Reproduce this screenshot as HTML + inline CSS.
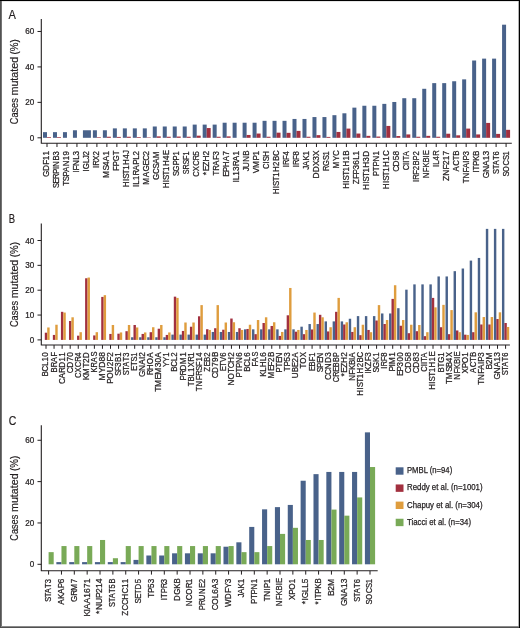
<!DOCTYPE html><html><head><meta charset="utf-8"><style>html,body{margin:0;padding:0;background:#fff;}svg{display:block;will-change:transform;} text{stroke:#231f20;stroke-width:0.25px;} text.t{stroke-width:0.2px;}</style></head><body>
<svg width="520" height="628" viewBox="0 0 520 628" font-family='"Liberation Sans", sans-serif' fill="#231f20" stroke-linejoin="round">
<rect x="0" y="0" width="520" height="628" fill="#fff"/>
<text class="t" transform="translate(8.60,18.80) scale(0.8804,1)" x="0.00" font-size="12.6">A</text>
<text class="t" transform="translate(17.7,124.20) rotate(-90)" font-size="10.4" textLength="26.00" lengthAdjust="spacingAndGlyphs">Cases</text>
<text class="t" transform="translate(17.7,95.50) rotate(-90)" font-size="10.4" textLength="38.60" lengthAdjust="spacingAndGlyphs">mutated</text>
<text class="t" transform="translate(17.7,54.50) rotate(-90)" font-size="10.4" textLength="15.20" lengthAdjust="spacingAndGlyphs">(%)</text>
<rect x="43.00" y="132.14" width="4.00" height="5.66" fill="#49628a"/>
<rect x="52.98" y="132.14" width="4.00" height="5.66" fill="#49628a"/>
<rect x="62.96" y="132.14" width="4.00" height="5.66" fill="#49628a"/>
<rect x="72.94" y="130.26" width="4.00" height="7.54" fill="#49628a"/>
<rect x="92.90" y="130.26" width="4.00" height="7.54" fill="#49628a"/>
<rect x="102.88" y="130.26" width="4.00" height="7.54" fill="#49628a"/>
<rect x="112.86" y="128.37" width="4.00" height="9.43" fill="#49628a"/>
<rect x="122.84" y="128.37" width="4.00" height="9.43" fill="#49628a"/>
<rect x="132.82" y="128.37" width="4.00" height="9.43" fill="#49628a"/>
<rect x="142.80" y="128.37" width="4.00" height="9.43" fill="#49628a"/>
<rect x="152.78" y="126.49" width="4.00" height="11.31" fill="#49628a"/>
<rect x="162.76" y="126.49" width="4.00" height="11.31" fill="#49628a"/>
<rect x="172.74" y="126.49" width="4.00" height="11.31" fill="#49628a"/>
<rect x="182.72" y="126.49" width="4.00" height="11.31" fill="#49628a"/>
<rect x="192.70" y="124.60" width="4.00" height="13.20" fill="#49628a"/>
<rect x="202.68" y="124.60" width="4.00" height="13.20" fill="#49628a"/>
<rect x="212.66" y="124.60" width="4.00" height="13.20" fill="#49628a"/>
<rect x="222.64" y="122.72" width="4.00" height="15.08" fill="#49628a"/>
<rect x="232.62" y="122.72" width="4.00" height="15.08" fill="#49628a"/>
<rect x="242.60" y="122.72" width="4.00" height="15.08" fill="#49628a"/>
<rect x="252.58" y="122.72" width="4.00" height="15.08" fill="#49628a"/>
<rect x="262.56" y="120.83" width="4.00" height="16.97" fill="#49628a"/>
<rect x="272.54" y="120.83" width="4.00" height="16.97" fill="#49628a"/>
<rect x="282.52" y="120.83" width="4.00" height="16.97" fill="#49628a"/>
<rect x="292.50" y="118.95" width="4.00" height="18.85" fill="#49628a"/>
<rect x="302.48" y="118.95" width="4.00" height="18.85" fill="#49628a"/>
<rect x="312.46" y="117.06" width="4.00" height="20.74" fill="#49628a"/>
<rect x="322.44" y="117.06" width="4.00" height="20.74" fill="#49628a"/>
<rect x="332.42" y="115.18" width="4.00" height="22.62" fill="#49628a"/>
<rect x="342.40" y="113.29" width="4.00" height="24.51" fill="#49628a"/>
<rect x="352.38" y="107.64" width="4.00" height="30.16" fill="#49628a"/>
<rect x="362.36" y="105.75" width="4.00" height="32.05" fill="#49628a"/>
<rect x="372.34" y="105.75" width="4.00" height="32.05" fill="#49628a"/>
<rect x="382.32" y="103.87" width="4.00" height="33.93" fill="#49628a"/>
<rect x="392.30" y="101.98" width="4.00" height="35.82" fill="#49628a"/>
<rect x="402.28" y="98.21" width="4.00" height="39.59" fill="#49628a"/>
<rect x="412.26" y="98.21" width="4.00" height="39.59" fill="#49628a"/>
<rect x="422.24" y="88.79" width="4.00" height="49.01" fill="#49628a"/>
<rect x="432.22" y="83.13" width="4.00" height="54.67" fill="#49628a"/>
<rect x="442.20" y="83.13" width="4.00" height="54.67" fill="#49628a"/>
<rect x="452.18" y="81.25" width="4.00" height="56.55" fill="#49628a"/>
<rect x="462.16" y="79.36" width="4.00" height="58.44" fill="#49628a"/>
<rect x="472.14" y="60.51" width="4.00" height="77.29" fill="#49628a"/>
<rect x="482.12" y="58.63" width="4.00" height="79.17" fill="#49628a"/>
<rect x="492.10" y="58.63" width="4.00" height="79.17" fill="#49628a"/>
<rect x="502.08" y="24.69" width="4.00" height="113.11" fill="#49628a"/>
<rect x="47.00" y="137.09" width="4.00" height="0.71" fill="#a2303f"/>
<rect x="56.98" y="137.09" width="4.00" height="0.71" fill="#a2303f"/>
<rect x="96.90" y="137.18" width="4.00" height="0.62" fill="#a2303f"/>
<rect x="106.88" y="136.74" width="4.00" height="1.06" fill="#a2303f"/>
<rect x="116.86" y="136.91" width="4.00" height="0.89" fill="#a2303f"/>
<rect x="126.84" y="136.74" width="4.00" height="1.06" fill="#a2303f"/>
<rect x="136.82" y="137.09" width="4.00" height="0.71" fill="#a2303f"/>
<rect x="146.80" y="137.36" width="4.00" height="0.44" fill="#a2303f"/>
<rect x="156.78" y="136.38" width="4.00" height="1.42" fill="#a2303f"/>
<rect x="166.76" y="136.74" width="4.00" height="1.06" fill="#a2303f"/>
<rect x="176.74" y="136.56" width="4.00" height="1.24" fill="#a2303f"/>
<rect x="186.72" y="136.74" width="4.00" height="1.06" fill="#a2303f"/>
<rect x="196.70" y="135.67" width="4.00" height="2.13" fill="#a2303f"/>
<rect x="206.68" y="128.05" width="4.00" height="9.75" fill="#a2303f"/>
<rect x="216.66" y="136.74" width="4.00" height="1.06" fill="#a2303f"/>
<rect x="226.64" y="136.38" width="4.00" height="1.42" fill="#a2303f"/>
<rect x="246.60" y="134.96" width="4.00" height="2.84" fill="#a2303f"/>
<rect x="256.58" y="133.55" width="4.00" height="4.25" fill="#a2303f"/>
<rect x="266.56" y="136.74" width="4.00" height="1.06" fill="#a2303f"/>
<rect x="276.54" y="132.66" width="4.00" height="5.14" fill="#a2303f"/>
<rect x="286.52" y="132.84" width="4.00" height="4.96" fill="#a2303f"/>
<rect x="296.50" y="130.89" width="4.00" height="6.91" fill="#a2303f"/>
<rect x="306.48" y="136.74" width="4.00" height="1.06" fill="#a2303f"/>
<rect x="316.46" y="135.14" width="4.00" height="2.66" fill="#a2303f"/>
<rect x="326.44" y="136.91" width="4.00" height="0.89" fill="#a2303f"/>
<rect x="336.42" y="131.95" width="4.00" height="5.85" fill="#a2303f"/>
<rect x="346.40" y="128.59" width="4.00" height="9.21" fill="#a2303f"/>
<rect x="356.38" y="133.55" width="4.00" height="4.25" fill="#a2303f"/>
<rect x="366.36" y="135.85" width="4.00" height="1.95" fill="#a2303f"/>
<rect x="376.34" y="136.56" width="4.00" height="1.24" fill="#a2303f"/>
<rect x="386.32" y="125.93" width="4.00" height="11.87" fill="#a2303f"/>
<rect x="396.30" y="136.03" width="4.00" height="1.77" fill="#a2303f"/>
<rect x="406.28" y="134.43" width="4.00" height="3.37" fill="#a2303f"/>
<rect x="416.26" y="136.74" width="4.00" height="1.06" fill="#a2303f"/>
<rect x="426.24" y="135.85" width="4.00" height="1.95" fill="#a2303f"/>
<rect x="436.22" y="136.74" width="4.00" height="1.06" fill="#a2303f"/>
<rect x="446.20" y="133.72" width="4.00" height="4.08" fill="#a2303f"/>
<rect x="456.18" y="135.32" width="4.00" height="2.48" fill="#a2303f"/>
<rect x="466.16" y="128.59" width="4.00" height="9.21" fill="#a2303f"/>
<rect x="476.14" y="134.43" width="4.00" height="3.37" fill="#a2303f"/>
<rect x="486.12" y="122.92" width="4.00" height="14.88" fill="#a2303f"/>
<rect x="496.10" y="133.90" width="4.00" height="3.90" fill="#a2303f"/>
<rect x="506.08" y="129.83" width="4.00" height="7.97" fill="#a2303f"/>
<path d="M41.3,19V143.2H511.8" fill="none" stroke="#231f20" stroke-width="1.1"/>
<path d="M37.5,137.80H41.3" stroke="#231f20" stroke-width="1"/>
<text transform="translate(29.69,140.80) scale(0.9439,1)" x="0.00" font-size="8.6">0</text>
<path d="M37.5,102.36H41.3" stroke="#231f20" stroke-width="1"/>
<text transform="translate(25.17,105.36) scale(0.9439,1)" x="0.00 4.78" font-size="8.6">20</text>
<path d="M37.5,66.92H41.3" stroke="#231f20" stroke-width="1"/>
<text transform="translate(25.17,69.92) scale(0.9439,1)" x="0.00 4.78" font-size="8.6">40</text>
<path d="M37.5,31.48H41.3" stroke="#231f20" stroke-width="1"/>
<text transform="translate(25.17,34.48) scale(0.9439,1)" x="0.00 4.78" font-size="8.6">60</text>
<path d="M47.00,143.2V147.0" stroke="#231f20" stroke-width="1"/>
<text transform="translate(49.45,177.04) rotate(-90) scale(0.9322,1)" x="0.00 6.49 13.17 18.06 23.21" font-size="8.8">GDF11</text>
<path d="M56.98,143.2V147.0" stroke="#231f20" stroke-width="1"/>
<text transform="translate(59.43,188.11) rotate(-90) scale(0.8617,1)" x="0.00 5.36 10.70 16.54 22.32 24.92 32.07 37.95" font-size="8.8">SERPINB3</text>
<path d="M66.96,143.2V147.0" stroke="#231f20" stroke-width="1"/>
<text transform="translate(69.41,185.77) rotate(-90) scale(0.8990,1)" x="0.00 5.17 10.31 15.22 21.59 28.44 33.79" font-size="8.8">TSPAN19</text>
<path d="M76.94,143.2V147.0" stroke="#231f20" stroke-width="1"/>
<text transform="translate(79.39,172.77) rotate(-90) scale(0.9253,1)" x="0.00 2.42 7.34 14.00 18.77" font-size="8.8">IFNL3</text>
<path d="M86.92,143.2V147.0" stroke="#231f20" stroke-width="1"/>
<text transform="translate(89.37,171.57) rotate(-90) scale(0.8930,1)" x="0.00 2.51 9.28 14.22 18.10" font-size="8.8">IGLJ2</text>
<path d="M96.90,143.2V147.0" stroke="#231f20" stroke-width="1"/>
<text transform="translate(99.35,168.02) rotate(-90) scale(0.8904,1)" x="0.00 2.51 8.17 14.17" font-size="8.8">IRX2</text>
<path d="M106.88,143.2V147.0" stroke="#231f20" stroke-width="1"/>
<text transform="translate(109.33,178.07) rotate(-90) scale(0.9520,1)" x="0.00 7.91 12.75 17.80 23.81" font-size="8.8">MS4A1</text>
<path d="M116.86,143.2V147.0" stroke="#231f20" stroke-width="1"/>
<text transform="translate(119.31,170.84) rotate(-90) scale(0.8624,1)" x="0.00 5.29 11.06 18.07" font-size="8.8">FPGT</text>
<path d="M126.84,143.2V147.0" stroke="#231f20" stroke-width="1"/>
<text transform="translate(129.29,187.19) rotate(-90) scale(0.9014,1)" x="0.00 6.77 9.25 14.37 19.32 24.65 31.42 36.75" font-size="8.8">HIST1H4J</text>
<path d="M136.82,143.2V147.0" stroke="#231f20" stroke-width="1"/>
<text transform="translate(139.27,187.02) rotate(-90) scale(0.9079,1)" x="0.00 2.46 7.33 12.62 18.17 24.48 29.96 34.83" font-size="8.8">IL1RAPL2</text>
<path d="M146.80,143.2V147.0" stroke="#231f20" stroke-width="1"/>
<text transform="translate(149.25,184.74) rotate(-90) scale(0.9185,1)" x="0.00 8.19 14.43 21.01 26.03 31.94" font-size="8.8">MAGEC2</text>
<path d="M156.78,143.2V147.0" stroke="#231f20" stroke-width="1"/>
<text transform="translate(159.23,179.94) rotate(-90) scale(0.9093,1)" x="0.00 6.65 12.62 17.69 23.99" font-size="8.8">GCSAM</text>
<path d="M166.76,143.2V147.0" stroke="#231f20" stroke-width="1"/>
<text transform="translate(169.21,188.33) rotate(-90) scale(0.8971,1)" x="0.00 6.80 9.30 14.44 19.42 24.77 31.57 36.92" font-size="8.8">HIST1H4E</text>
<path d="M176.74,143.2V147.0" stroke="#231f20" stroke-width="1"/>
<text transform="translate(179.19,176.02) rotate(-90) scale(0.8662,1)" x="0.00 5.33 12.31 18.06 23.80" font-size="8.8">SGPP1</text>
<path d="M186.72,143.2V147.0" stroke="#231f20" stroke-width="1"/>
<text transform="translate(189.17,174.22) rotate(-90) scale(0.8329,1)" x="0.00 5.54 11.59 17.13 22.60" font-size="8.8">SRSF1</text>
<path d="M196.70,143.2V147.0" stroke="#231f20" stroke-width="1"/>
<text transform="translate(199.15,176.64) rotate(-90) scale(0.8730,1)" x="0.00 6.22 12.34 18.56 24.33" font-size="8.8">CXCR5</text>
<path d="M206.68,143.2V147.0" stroke="#231f20" stroke-width="1"/>
<text transform="translate(209.13,175.16) rotate(-90) scale(0.9476,1)" x="0.00 4.09 8.95 14.41 20.85" font-size="8.8">*EZH2</text>
<path d="M216.66,143.2V147.0" stroke="#231f20" stroke-width="1"/>
<text transform="translate(219.11,175.38) rotate(-90) scale(0.8890,1)" x="0.00 5.23 10.90 17.34 22.47" font-size="8.8">TRAF3</text>
<path d="M226.64,143.2V147.0" stroke="#231f20" stroke-width="1"/>
<text transform="translate(229.09,176.82) rotate(-90) scale(0.9085,1)" x="0.00 5.07 10.55 17.27 23.57" font-size="8.8">EPHA7</text>
<path d="M236.62,143.2V147.0" stroke="#231f20" stroke-width="1"/>
<text transform="translate(239.07,182.42) rotate(-90) scale(0.9293,1)" x="0.00 2.41 7.16 12.33 17.50 22.91 29.08" font-size="8.8">IL13RA1</text>
<path d="M246.60,143.2V147.0" stroke="#231f20" stroke-width="1"/>
<text transform="translate(249.05,171.35) rotate(-90) scale(0.9030,1)" x="0.00 3.84 10.54 17.36" font-size="8.8">JUNB</text>
<path d="M256.58,143.2V147.0" stroke="#231f20" stroke-width="1"/>
<text transform="translate(259.03,173.13) rotate(-90) scale(0.9402,1)" x="0.00 5.56 13.56 18.86" font-size="8.8">VMP1</text>
<path d="M266.56,143.2V147.0" stroke="#231f20" stroke-width="1"/>
<text transform="translate(269.01,168.98) rotate(-90) scale(0.8744,1)" x="0.00 6.21 8.77 14.04" font-size="8.8">CISH</text>
<path d="M276.54,143.2V147.0" stroke="#231f20" stroke-width="1"/>
<text transform="translate(278.99,194.23) rotate(-90) scale(0.9011,1)" x="0.00 6.77 9.25 14.38 19.33 24.66 31.43 36.76 42.39" font-size="8.8">HIST1H2BC</text>
<path d="M286.52,143.2V147.0" stroke="#231f20" stroke-width="1"/>
<text transform="translate(288.97,167.23) rotate(-90) scale(0.8722,1)" x="0.00 2.56 8.34 13.56" font-size="8.8">IRF4</text>
<path d="M296.50,143.2V147.0" stroke="#231f20" stroke-width="1"/>
<text transform="translate(298.95,167.23) rotate(-90) scale(0.8722,1)" x="0.00 2.56 8.34 13.56" font-size="8.8">IRF8</text>
<path d="M306.48,143.2V147.0" stroke="#231f20" stroke-width="1"/>
<text transform="translate(308.93,169.67) rotate(-90) scale(0.9065,1)" x="0.00 3.82 10.14 15.74" font-size="8.8">JAK1</text>
<path d="M316.46,143.2V147.0" stroke="#231f20" stroke-width="1"/>
<text transform="translate(318.91,178.56) rotate(-90) scale(0.9528,1)" x="0.00 6.54 13.09 18.69 23.73" font-size="8.8">DDX3X</text>
<path d="M326.44,143.2V147.0" stroke="#231f20" stroke-width="1"/>
<text transform="translate(328.89,171.10) rotate(-90) scale(0.8554,1)" x="0.00 5.89 12.96 18.35" font-size="8.8">RGS1</text>
<path d="M336.42,143.2V147.0" stroke="#231f20" stroke-width="1"/>
<text transform="translate(338.87,168.62) rotate(-90) scale(0.9214,1)" x="0.00 8.17 13.66" font-size="8.8">MYC</text>
<path d="M346.40,143.2V147.0" stroke="#231f20" stroke-width="1"/>
<text transform="translate(348.85,188.80) rotate(-90) scale(0.9082,1)" x="0.00 6.72 9.18 14.26 19.18 24.47 31.19 36.47" font-size="8.8">HIST1H1B</text>
<path d="M356.38,143.2V147.0" stroke="#231f20" stroke-width="1"/>
<text transform="translate(358.83,184.14) rotate(-90) scale(0.9265,1)" x="0.00 5.59 10.51 15.88 21.06 26.25 31.01" font-size="8.8">ZFP36L1</text>
<path d="M366.36,143.2V147.0" stroke="#231f20" stroke-width="1"/>
<text transform="translate(368.81,189.96) rotate(-90) scale(0.9251,1)" x="0.00 6.60 9.01 14.00 18.83 24.02 30.62 35.81" font-size="8.8">HIST1H3D</text>
<path d="M376.34,143.2V147.0" stroke="#231f20" stroke-width="1"/>
<text transform="translate(378.79,176.17) rotate(-90) scale(0.9016,1)" x="0.00 5.52 10.68 16.21 23.04" font-size="8.8">PTPN1</text>
<path d="M386.32,143.2V147.0" stroke="#231f20" stroke-width="1"/>
<text transform="translate(388.77,189.15) rotate(-90) scale(0.9062,1)" x="0.00 6.73 9.20 14.29 19.22 24.52 31.25 36.55" font-size="8.8">HIST1H1C</text>
<path d="M396.30,143.2V147.0" stroke="#231f20" stroke-width="1"/>
<text transform="translate(398.75,171.87) rotate(-90) scale(0.9452,1)" x="0.00 5.74 12.34 17.42" font-size="8.8">CD58</text>
<path d="M406.28,143.2V147.0" stroke="#231f20" stroke-width="1"/>
<text transform="translate(408.73,170.32) rotate(-90) scale(0.8769,1)" x="0.00 6.19 8.74 11.29 15.96" font-size="8.8">CIITA</text>
<path d="M416.26,143.2V147.0" stroke="#231f20" stroke-width="1"/>
<text transform="translate(418.71,182.09) rotate(-90) scale(0.8819,1)" x="0.00 2.54 8.25 13.42 18.86 24.61 30.26" font-size="8.8">IRF2BP2</text>
<path d="M426.24,143.2V147.0" stroke="#231f20" stroke-width="1"/>
<text transform="translate(428.69,178.31) rotate(-90) scale(0.8717,1)" x="0.00 7.07 12.29 18.11 23.93 26.50" font-size="8.8">NFKBIE</text>
<path d="M436.22,143.2V147.0" stroke="#231f20" stroke-width="1"/>
<text transform="translate(438.67,167.09) rotate(-90) scale(0.8872,1)" x="0.00 2.52 7.50 12.91" font-size="8.8">IL4R</text>
<path d="M446.20,143.2V147.0" stroke="#231f20" stroke-width="1"/>
<text transform="translate(448.65,180.90) rotate(-90) scale(0.9531,1)" x="0.00 5.43 11.89 16.67 21.71 26.75" font-size="8.8">ZNF217</text>
<path d="M456.18,143.2V147.0" stroke="#231f20" stroke-width="1"/>
<text transform="translate(458.63,171.48) rotate(-90) scale(0.8898,1)" x="0.00 6.44 12.54 17.77" font-size="8.8">ACTB</text>
<path d="M466.16,143.2V147.0" stroke="#231f20" stroke-width="1"/>
<text transform="translate(468.61,183.25) rotate(-90) scale(0.9023,1)" x="0.00 5.16 11.98 16.52 22.86 25.34 30.86" font-size="8.8">TNFAIP3</text>
<path d="M476.14,143.2V147.0" stroke="#231f20" stroke-width="1"/>
<text transform="translate(478.59,172.61) rotate(-90) scale(0.8657,1)" x="0.00 2.58 7.96 13.71 19.57" font-size="8.8">ITPKB</text>
<path d="M486.12,143.2V147.0" stroke="#231f20" stroke-width="1"/>
<text transform="translate(488.57,178.14) rotate(-90) scale(0.9542,1)" x="0.00 6.34 12.79 18.79 23.83" font-size="8.8">GNA13</text>
<path d="M496.10,143.2V147.0" stroke="#231f20" stroke-width="1"/>
<text transform="translate(498.55,173.93) rotate(-90) scale(0.8518,1)" x="0.00 5.42 10.22 16.29 21.75" font-size="8.8">STAT6</text>
<path d="M506.08,143.2V147.0" stroke="#231f20" stroke-width="1"/>
<text transform="translate(508.53,176.51) rotate(-90) scale(0.8684,1)" x="0.00 5.31 12.74 18.99 24.30" font-size="8.8">SOCS1</text>
<rect x="82.92" y="130.26" width="8" height="7.54" fill="#49628a"/>
<text class="t" transform="translate(8.80,223.10) scale(0.7546,1)" x="0.00" font-size="12.6">B</text>
<text class="t" transform="translate(17.7,327.00) rotate(-90)" font-size="10.4" textLength="26.00" lengthAdjust="spacingAndGlyphs">Cases</text>
<text class="t" transform="translate(17.7,298.30) rotate(-90)" font-size="10.4" textLength="38.60" lengthAdjust="spacingAndGlyphs">mutated</text>
<text class="t" transform="translate(17.7,257.30) rotate(-90)" font-size="10.4" textLength="15.20" lengthAdjust="spacingAndGlyphs">(%)</text>
<rect x="131.06" y="337.26" width="2.42" height="2.64" fill="#49628a"/>
<rect x="139.13" y="337.26" width="2.42" height="2.64" fill="#49628a"/>
<rect x="147.19" y="337.26" width="2.42" height="2.64" fill="#49628a"/>
<rect x="155.25" y="337.26" width="2.42" height="2.64" fill="#49628a"/>
<rect x="163.31" y="337.26" width="2.42" height="2.64" fill="#49628a"/>
<rect x="171.38" y="334.61" width="2.42" height="5.29" fill="#49628a"/>
<rect x="179.44" y="334.61" width="2.42" height="5.29" fill="#49628a"/>
<rect x="187.50" y="334.61" width="2.42" height="5.29" fill="#49628a"/>
<rect x="195.57" y="334.61" width="2.42" height="5.29" fill="#49628a"/>
<rect x="203.63" y="334.61" width="2.42" height="5.29" fill="#49628a"/>
<rect x="211.69" y="331.97" width="2.42" height="7.93" fill="#49628a"/>
<rect x="219.76" y="331.97" width="2.42" height="7.93" fill="#49628a"/>
<rect x="227.82" y="331.97" width="2.42" height="7.93" fill="#49628a"/>
<rect x="235.88" y="331.97" width="2.42" height="7.93" fill="#49628a"/>
<rect x="243.95" y="329.33" width="2.42" height="10.57" fill="#49628a"/>
<rect x="252.01" y="329.33" width="2.42" height="10.57" fill="#49628a"/>
<rect x="260.07" y="329.33" width="2.42" height="10.57" fill="#49628a"/>
<rect x="268.13" y="329.33" width="2.42" height="10.57" fill="#49628a"/>
<rect x="276.20" y="329.33" width="2.42" height="10.57" fill="#49628a"/>
<rect x="284.26" y="329.33" width="2.42" height="10.57" fill="#49628a"/>
<rect x="292.32" y="329.33" width="2.42" height="10.57" fill="#49628a"/>
<rect x="300.39" y="326.68" width="2.42" height="13.22" fill="#49628a"/>
<rect x="308.45" y="324.04" width="2.42" height="15.86" fill="#49628a"/>
<rect x="316.51" y="324.04" width="2.42" height="15.86" fill="#49628a"/>
<rect x="324.58" y="321.39" width="2.42" height="18.51" fill="#49628a"/>
<rect x="332.64" y="321.39" width="2.42" height="18.51" fill="#49628a"/>
<rect x="340.70" y="321.39" width="2.42" height="18.51" fill="#49628a"/>
<rect x="348.76" y="318.75" width="2.42" height="21.15" fill="#49628a"/>
<rect x="356.83" y="316.11" width="2.42" height="23.79" fill="#49628a"/>
<rect x="364.89" y="316.11" width="2.42" height="23.79" fill="#49628a"/>
<rect x="372.95" y="316.11" width="2.42" height="23.79" fill="#49628a"/>
<rect x="381.02" y="313.46" width="2.42" height="26.44" fill="#49628a"/>
<rect x="389.08" y="313.46" width="2.42" height="26.44" fill="#49628a"/>
<rect x="397.14" y="308.18" width="2.42" height="31.72" fill="#49628a"/>
<rect x="405.21" y="289.67" width="2.42" height="50.23" fill="#49628a"/>
<rect x="413.27" y="284.38" width="2.42" height="55.52" fill="#49628a"/>
<rect x="421.33" y="284.38" width="2.42" height="55.52" fill="#49628a"/>
<rect x="429.39" y="284.38" width="2.42" height="55.52" fill="#49628a"/>
<rect x="437.46" y="276.45" width="2.42" height="63.45" fill="#49628a"/>
<rect x="445.52" y="276.45" width="2.42" height="63.45" fill="#49628a"/>
<rect x="453.58" y="271.17" width="2.42" height="68.73" fill="#49628a"/>
<rect x="461.65" y="268.52" width="2.42" height="71.38" fill="#49628a"/>
<rect x="469.71" y="260.59" width="2.42" height="79.31" fill="#49628a"/>
<rect x="477.77" y="257.95" width="2.42" height="81.95" fill="#49628a"/>
<rect x="485.84" y="228.87" width="2.42" height="111.03" fill="#49628a"/>
<rect x="493.90" y="228.87" width="2.42" height="111.03" fill="#49628a"/>
<rect x="501.96" y="228.87" width="2.42" height="111.03" fill="#49628a"/>
<rect x="44.79" y="332.69" width="2.42" height="7.21" fill="#a2303f"/>
<rect x="52.85" y="334.93" width="2.42" height="4.97" fill="#a2303f"/>
<rect x="60.92" y="311.82" width="2.42" height="28.08" fill="#a2303f"/>
<rect x="68.98" y="321.01" width="2.42" height="18.89" fill="#a2303f"/>
<rect x="77.04" y="335.68" width="2.42" height="4.22" fill="#a2303f"/>
<rect x="85.11" y="278.27" width="2.42" height="61.63" fill="#a2303f"/>
<rect x="93.17" y="335.43" width="2.42" height="4.47" fill="#a2303f"/>
<rect x="101.23" y="296.91" width="2.42" height="42.99" fill="#a2303f"/>
<rect x="109.29" y="333.94" width="2.42" height="5.96" fill="#a2303f"/>
<rect x="117.36" y="333.69" width="2.42" height="6.21" fill="#a2303f"/>
<rect x="125.42" y="331.20" width="2.42" height="8.70" fill="#a2303f"/>
<rect x="133.48" y="324.99" width="2.42" height="14.91" fill="#a2303f"/>
<rect x="141.55" y="333.94" width="2.42" height="5.96" fill="#a2303f"/>
<rect x="149.61" y="332.20" width="2.42" height="7.70" fill="#a2303f"/>
<rect x="157.67" y="328.72" width="2.42" height="11.18" fill="#a2303f"/>
<rect x="165.73" y="334.93" width="2.42" height="4.97" fill="#a2303f"/>
<rect x="173.80" y="296.66" width="2.42" height="43.24" fill="#a2303f"/>
<rect x="181.86" y="330.95" width="2.42" height="8.95" fill="#a2303f"/>
<rect x="189.92" y="326.73" width="2.42" height="13.17" fill="#a2303f"/>
<rect x="197.99" y="316.29" width="2.42" height="23.61" fill="#a2303f"/>
<rect x="206.05" y="329.21" width="2.42" height="10.69" fill="#a2303f"/>
<rect x="214.11" y="328.22" width="2.42" height="11.68" fill="#a2303f"/>
<rect x="222.18" y="329.71" width="2.42" height="10.19" fill="#a2303f"/>
<rect x="230.24" y="318.53" width="2.42" height="21.37" fill="#a2303f"/>
<rect x="238.30" y="328.22" width="2.42" height="11.68" fill="#a2303f"/>
<rect x="246.37" y="328.97" width="2.42" height="10.93" fill="#a2303f"/>
<rect x="254.43" y="334.18" width="2.42" height="5.72" fill="#a2303f"/>
<rect x="262.49" y="323.00" width="2.42" height="16.90" fill="#a2303f"/>
<rect x="270.55" y="325.98" width="2.42" height="13.92" fill="#a2303f"/>
<rect x="278.62" y="335.92" width="2.42" height="3.98" fill="#a2303f"/>
<rect x="286.68" y="315.30" width="2.42" height="24.60" fill="#a2303f"/>
<rect x="294.74" y="331.70" width="2.42" height="8.20" fill="#a2303f"/>
<rect x="302.81" y="334.18" width="2.42" height="5.72" fill="#a2303f"/>
<rect x="310.87" y="329.46" width="2.42" height="10.44" fill="#a2303f"/>
<rect x="318.93" y="314.80" width="2.42" height="25.10" fill="#a2303f"/>
<rect x="327.00" y="331.45" width="2.42" height="8.45" fill="#a2303f"/>
<rect x="335.06" y="311.82" width="2.42" height="28.08" fill="#a2303f"/>
<rect x="343.12" y="324.49" width="2.42" height="15.41" fill="#a2303f"/>
<rect x="351.18" y="331.95" width="2.42" height="7.95" fill="#a2303f"/>
<rect x="359.25" y="335.18" width="2.42" height="4.72" fill="#a2303f"/>
<rect x="367.31" y="329.96" width="2.42" height="9.94" fill="#a2303f"/>
<rect x="375.37" y="320.52" width="2.42" height="19.38" fill="#a2303f"/>
<rect x="383.44" y="324.00" width="2.42" height="15.90" fill="#a2303f"/>
<rect x="391.50" y="298.90" width="2.42" height="41.00" fill="#a2303f"/>
<rect x="399.56" y="325.74" width="2.42" height="14.16" fill="#a2303f"/>
<rect x="407.63" y="333.19" width="2.42" height="6.71" fill="#a2303f"/>
<rect x="415.69" y="331.20" width="2.42" height="8.70" fill="#a2303f"/>
<rect x="423.75" y="336.17" width="2.42" height="3.73" fill="#a2303f"/>
<rect x="431.81" y="297.90" width="2.42" height="42.00" fill="#a2303f"/>
<rect x="439.88" y="327.23" width="2.42" height="12.67" fill="#a2303f"/>
<rect x="447.94" y="334.18" width="2.42" height="5.72" fill="#a2303f"/>
<rect x="456.00" y="330.46" width="2.42" height="9.44" fill="#a2303f"/>
<rect x="464.07" y="334.68" width="2.42" height="5.22" fill="#a2303f"/>
<rect x="472.13" y="332.20" width="2.42" height="7.70" fill="#a2303f"/>
<rect x="480.19" y="324.49" width="2.42" height="15.41" fill="#a2303f"/>
<rect x="488.26" y="324.49" width="2.42" height="15.41" fill="#a2303f"/>
<rect x="496.32" y="319.03" width="2.42" height="20.87" fill="#a2303f"/>
<rect x="504.38" y="323.00" width="2.42" height="16.90" fill="#a2303f"/>
<rect x="47.21" y="327.47" width="2.42" height="12.42" fill="#df9d3e"/>
<rect x="55.27" y="324.74" width="2.42" height="15.16" fill="#df9d3e"/>
<rect x="63.34" y="312.56" width="2.42" height="27.33" fill="#df9d3e"/>
<rect x="71.40" y="317.29" width="2.42" height="22.61" fill="#df9d3e"/>
<rect x="79.46" y="332.20" width="2.42" height="7.70" fill="#df9d3e"/>
<rect x="87.52" y="277.53" width="2.42" height="62.37" fill="#df9d3e"/>
<rect x="95.59" y="332.20" width="2.42" height="7.70" fill="#df9d3e"/>
<rect x="103.65" y="295.17" width="2.42" height="44.73" fill="#df9d3e"/>
<rect x="111.71" y="324.99" width="2.42" height="14.91" fill="#df9d3e"/>
<rect x="119.78" y="332.44" width="2.42" height="7.46" fill="#df9d3e"/>
<rect x="127.84" y="324.99" width="2.42" height="14.91" fill="#df9d3e"/>
<rect x="135.90" y="327.47" width="2.42" height="12.42" fill="#df9d3e"/>
<rect x="143.97" y="332.44" width="2.42" height="7.46" fill="#df9d3e"/>
<rect x="152.03" y="327.23" width="2.42" height="12.67" fill="#df9d3e"/>
<rect x="160.09" y="324.99" width="2.42" height="14.91" fill="#df9d3e"/>
<rect x="168.16" y="332.44" width="2.42" height="7.46" fill="#df9d3e"/>
<rect x="176.22" y="297.90" width="2.42" height="42.00" fill="#df9d3e"/>
<rect x="184.28" y="322.50" width="2.42" height="17.39" fill="#df9d3e"/>
<rect x="192.34" y="322.50" width="2.42" height="17.39" fill="#df9d3e"/>
<rect x="200.41" y="305.11" width="2.42" height="34.79" fill="#df9d3e"/>
<rect x="208.47" y="329.96" width="2.42" height="9.94" fill="#df9d3e"/>
<rect x="216.53" y="305.11" width="2.42" height="34.79" fill="#df9d3e"/>
<rect x="224.60" y="322.50" width="2.42" height="17.39" fill="#df9d3e"/>
<rect x="232.66" y="322.26" width="2.42" height="17.64" fill="#df9d3e"/>
<rect x="240.72" y="329.96" width="2.42" height="9.94" fill="#df9d3e"/>
<rect x="248.79" y="324.74" width="2.42" height="15.16" fill="#df9d3e"/>
<rect x="256.85" y="320.02" width="2.42" height="19.88" fill="#df9d3e"/>
<rect x="264.91" y="317.29" width="2.42" height="22.61" fill="#df9d3e"/>
<rect x="272.97" y="322.26" width="2.42" height="17.64" fill="#df9d3e"/>
<rect x="281.04" y="331.95" width="2.42" height="7.95" fill="#df9d3e"/>
<rect x="289.10" y="287.96" width="2.42" height="51.94" fill="#df9d3e"/>
<rect x="297.16" y="329.96" width="2.42" height="9.94" fill="#df9d3e"/>
<rect x="305.23" y="329.96" width="2.42" height="9.94" fill="#df9d3e"/>
<rect x="313.29" y="312.56" width="2.42" height="27.33" fill="#df9d3e"/>
<rect x="321.35" y="317.29" width="2.42" height="22.61" fill="#df9d3e"/>
<rect x="329.42" y="327.23" width="2.42" height="12.67" fill="#df9d3e"/>
<rect x="337.48" y="297.90" width="2.42" height="42.00" fill="#df9d3e"/>
<rect x="345.54" y="322.26" width="2.42" height="17.64" fill="#df9d3e"/>
<rect x="353.60" y="327.23" width="2.42" height="12.67" fill="#df9d3e"/>
<rect x="361.67" y="324.74" width="2.42" height="15.16" fill="#df9d3e"/>
<rect x="369.73" y="332.20" width="2.42" height="7.70" fill="#df9d3e"/>
<rect x="377.79" y="305.11" width="2.42" height="34.79" fill="#df9d3e"/>
<rect x="385.86" y="320.02" width="2.42" height="19.88" fill="#df9d3e"/>
<rect x="393.92" y="285.23" width="2.42" height="54.67" fill="#df9d3e"/>
<rect x="401.98" y="320.02" width="2.42" height="19.88" fill="#df9d3e"/>
<rect x="410.05" y="324.74" width="2.42" height="15.16" fill="#df9d3e"/>
<rect x="418.11" y="324.99" width="2.42" height="14.91" fill="#df9d3e"/>
<rect x="426.17" y="332.20" width="2.42" height="7.70" fill="#df9d3e"/>
<rect x="434.23" y="307.35" width="2.42" height="32.55" fill="#df9d3e"/>
<rect x="442.30" y="304.86" width="2.42" height="35.04" fill="#df9d3e"/>
<rect x="450.36" y="310.08" width="2.42" height="29.82" fill="#df9d3e"/>
<rect x="458.42" y="332.20" width="2.42" height="7.70" fill="#df9d3e"/>
<rect x="466.49" y="334.93" width="2.42" height="4.97" fill="#df9d3e"/>
<rect x="474.55" y="312.32" width="2.42" height="27.58" fill="#df9d3e"/>
<rect x="482.61" y="317.04" width="2.42" height="22.86" fill="#df9d3e"/>
<rect x="490.68" y="317.04" width="2.42" height="22.86" fill="#df9d3e"/>
<rect x="498.74" y="312.32" width="2.42" height="27.58" fill="#df9d3e"/>
<rect x="506.80" y="326.98" width="2.42" height="12.92" fill="#df9d3e"/>
<path d="M41.3,223.4V345.0H509.9" fill="none" stroke="#231f20" stroke-width="1.1"/>
<path d="M37.5,339.90H41.3" stroke="#231f20" stroke-width="1"/>
<text transform="translate(29.69,342.90) scale(0.9439,1)" x="0.00" font-size="8.6">0</text>
<path d="M37.5,315.05H41.3" stroke="#231f20" stroke-width="1"/>
<text transform="translate(25.17,318.05) scale(0.9439,1)" x="0.00 4.78" font-size="8.6">10</text>
<path d="M37.5,290.20H41.3" stroke="#231f20" stroke-width="1"/>
<text transform="translate(25.17,293.20) scale(0.9439,1)" x="0.00 4.78" font-size="8.6">20</text>
<path d="M37.5,265.35H41.3" stroke="#231f20" stroke-width="1"/>
<text transform="translate(25.17,268.35) scale(0.9439,1)" x="0.00 4.78" font-size="8.6">30</text>
<path d="M37.5,240.50H41.3" stroke="#231f20" stroke-width="1"/>
<text transform="translate(25.17,243.50) scale(0.9439,1)" x="0.00 4.78" font-size="8.6">40</text>
<path d="M46.00,345.0V348.8" stroke="#231f20" stroke-width="1"/>
<text transform="translate(48.45,376.52) rotate(-90) scale(0.9114,1)" x="0.00 5.57 11.52 16.37 21.64" font-size="8.8">BCL10</text>
<path d="M54.06,345.0V348.8" stroke="#231f20" stroke-width="1"/>
<text transform="translate(56.51,372.40) rotate(-90) scale(0.8690,1)" x="0.00 5.84 11.63 18.22" font-size="8.8">BRAF</text>
<path d="M62.13,345.0V348.8" stroke="#231f20" stroke-width="1"/>
<text transform="translate(64.58,384.03) rotate(-90) scale(0.9224,1)" x="0.00 5.89 12.10 17.55 24.31 29.52" font-size="8.8">CARD11</text>
<path d="M70.19,345.0V348.8" stroke="#231f20" stroke-width="1"/>
<text transform="translate(72.64,373.27) rotate(-90) scale(0.9452,1)" x="0.00 5.74 12.34 17.42" font-size="8.8">CD70</text>
<path d="M78.25,345.0V348.8" stroke="#231f20" stroke-width="1"/>
<text transform="translate(80.70,378.04) rotate(-90) scale(0.8730,1)" x="0.00 6.22 12.34 18.56 24.33" font-size="8.8">CXCR4</text>
<path d="M86.31,345.0V348.8" stroke="#231f20" stroke-width="1"/>
<text transform="translate(88.77,380.29) rotate(-90) scale(0.9484,1)" x="0.00 5.35 13.28 18.19 23.25" font-size="8.8">KMT2D</text>
<path d="M94.38,345.0V348.8" stroke="#231f20" stroke-width="1"/>
<text transform="translate(96.83,372.45) rotate(-90) scale(0.8534,1)" x="0.00 5.94 11.84 18.56" font-size="8.8">KRAS</text>
<path d="M102.44,345.0V348.8" stroke="#231f20" stroke-width="1"/>
<text transform="translate(104.89,380.43) rotate(-90) scale(0.9687,1)" x="0.00 7.77 13.00 19.43 24.39" font-size="8.8">MYD88</text>
<path d="M110.50,345.0V348.8" stroke="#231f20" stroke-width="1"/>
<text transform="translate(112.95,383.65) rotate(-90) scale(0.9244,1)" x="0.00 5.39 12.36 18.91 24.11 29.04" font-size="8.8">POU2F2</text>
<path d="M118.57,345.0V348.8" stroke="#231f20" stroke-width="1"/>
<text transform="translate(121.02,375.85) rotate(-90) scale(0.8865,1)" x="0.00 5.21 10.35 15.76 21.49" font-size="8.8">SF3B1</text>
<path d="M126.63,345.0V348.8" stroke="#231f20" stroke-width="1"/>
<text transform="translate(129.08,375.33) rotate(-90) scale(0.8518,1)" x="0.00 5.42 10.22 16.29 21.75" font-size="8.8">STAT3</text>
<path d="M134.69,345.0V348.8" stroke="#231f20" stroke-width="1"/>
<text transform="translate(137.14,370.67) rotate(-90) scale(0.8485,1)" x="0.00 5.43 10.91 16.35" font-size="8.8">ETS1</text>
<path d="M142.76,345.0V348.8" stroke="#231f20" stroke-width="1"/>
<text transform="translate(145.21,376.97) rotate(-90) scale(0.9456,1)" x="0.00 6.39 12.91 18.97 21.33" font-size="8.8">GNAI2</text>
<path d="M150.82,345.0V348.8" stroke="#231f20" stroke-width="1"/>
<text transform="translate(153.27,375.32) rotate(-90) scale(0.9171,1)" x="0.00 5.49 12.15 19.18" font-size="8.8">RHOA</text>
<path d="M158.88,345.0V348.8" stroke="#231f20" stroke-width="1"/>
<text transform="translate(161.33,391.64) rotate(-90) scale(0.9537,1)" x="0.00 4.88 12.77 17.60 25.49 30.52 35.56" font-size="8.8">TMEM30A</text>
<path d="M166.94,345.0V348.8" stroke="#231f20" stroke-width="1"/>
<text transform="translate(169.40,366.93) rotate(-90) scale(0.8976,1)" x="0.00 5.64 11.28" font-size="8.8">YY1</text>
<path d="M175.01,345.0V348.8" stroke="#231f20" stroke-width="1"/>
<text transform="translate(177.46,371.72) rotate(-90) scale(0.8959,1)" x="0.00 5.66 11.72 16.65" font-size="8.8">BCL2</text>
<path d="M183.07,345.0V348.8" stroke="#231f20" stroke-width="1"/>
<text transform="translate(185.52,380.58) rotate(-90) scale(0.9277,1)" x="0.00 5.37 10.80 17.52 25.63" font-size="8.8">PRDM1</text>
<path d="M191.13,345.0V348.8" stroke="#231f20" stroke-width="1"/>
<text transform="translate(193.58,386.13) rotate(-90) scale(0.8945,1)" x="0.00 5.20 10.87 15.81 21.18 27.15 32.78" font-size="8.8">TBL1XR1</text>
<path d="M199.20,345.0V348.8" stroke="#231f20" stroke-width="1"/>
<text transform="translate(201.65,391.18) rotate(-90) scale(0.8806,1)" x="0.00 5.28 12.28 17.45 23.17 28.41 33.59 39.04" font-size="8.8">TNFRSF14</text>
<path d="M207.26,345.0V348.8" stroke="#231f20" stroke-width="1"/>
<text transform="translate(209.71,371.66) rotate(-90) scale(0.8931,1)" x="0.00 5.80 10.95 16.63" font-size="8.8">ZEB2</text>
<path d="M215.32,345.0V348.8" stroke="#231f20" stroke-width="1"/>
<text transform="translate(217.77,378.34) rotate(-90) scale(0.9285,1)" x="0.00 5.85 12.56 17.73 22.90" font-size="8.8">CD79B</text>
<path d="M223.39,345.0V348.8" stroke="#231f20" stroke-width="1"/>
<text transform="translate(225.84,371.28) rotate(-90) scale(0.8761,1)" x="0.00 5.26 10.57 16.53" font-size="8.8">ETV6</text>
<path d="M231.45,345.0V348.8" stroke="#231f20" stroke-width="1"/>
<text transform="translate(233.90,385.59) rotate(-90) scale(0.9285,1)" x="0.00 6.63 13.58 18.59 24.44 31.01" font-size="8.8">NOTCH2</text>
<path d="M239.51,345.0V348.8" stroke="#231f20" stroke-width="1"/>
<text transform="translate(241.96,377.57) rotate(-90) scale(0.9016,1)" x="0.00 5.52 10.68 16.21 23.04" font-size="8.8">PTPN6</text>
<path d="M247.58,345.0V348.8" stroke="#231f20" stroke-width="1"/>
<text transform="translate(250.03,371.72) rotate(-90) scale(0.8959,1)" x="0.00 5.66 11.72 16.65" font-size="8.8">BCL6</text>
<path d="M255.64,345.0V348.8" stroke="#231f20" stroke-width="1"/>
<text transform="translate(258.09,366.43) rotate(-90) scale(0.8433,1)" x="0.00 4.85 11.64" font-size="8.8">FAS</text>
<path d="M263.70,345.0V348.8" stroke="#231f20" stroke-width="1"/>
<text transform="translate(266.15,376.81) rotate(-90) scale(0.9222,1)" x="0.00 5.50 10.29 16.91 21.70" font-size="8.8">KLHL6</text>
<path d="M271.76,345.0V348.8" stroke="#231f20" stroke-width="1"/>
<text transform="translate(274.21,378.56) rotate(-90) scale(0.9054,1)" x="0.00 8.31 13.40 18.43 23.74" font-size="8.8">MEF2B</text>
<path d="M279.83,345.0V348.8" stroke="#231f20" stroke-width="1"/>
<text transform="translate(282.28,372.40) rotate(-90) scale(0.8690,1)" x="0.00 5.73 11.08 16.38" font-size="8.8">PTEN</text>
<path d="M287.89,345.0V348.8" stroke="#231f20" stroke-width="1"/>
<text transform="translate(290.34,371.23) rotate(-90) scale(0.9145,1)" x="0.00 5.09 10.53 15.78" font-size="8.8">TP53</text>
<path d="M295.95,345.0V348.8" stroke="#231f20" stroke-width="1"/>
<text transform="translate(298.40,378.26) rotate(-90) scale(0.9101,1)" x="0.00 6.65 12.23 17.29 22.56" font-size="8.8">UBE2A</text>
<path d="M304.02,345.0V348.8" stroke="#231f20" stroke-width="1"/>
<text transform="translate(306.47,368.45) rotate(-90) scale(0.9091,1)" x="0.00 5.12 12.21" font-size="8.8">TOX</text>
<path d="M312.08,345.0V348.8" stroke="#231f20" stroke-width="1"/>
<text transform="translate(314.53,371.04) rotate(-90) scale(0.8650,1)" x="0.00 5.32 11.19 16.46" font-size="8.8">EBF1</text>
<path d="M320.14,345.0V348.8" stroke="#231f20" stroke-width="1"/>
<text transform="translate(322.59,372.36) rotate(-90) scale(0.8495,1)" x="0.00 5.43 11.29 16.71" font-size="8.8">SPEN</text>
<path d="M328.21,345.0V348.8" stroke="#231f20" stroke-width="1"/>
<text transform="translate(330.66,380.05) rotate(-90) scale(0.9254,1)" x="0.00 5.87 11.73 18.39 25.13" font-size="8.8">CCND3</text>
<path d="M336.27,345.0V348.8" stroke="#231f20" stroke-width="1"/>
<text transform="translate(338.72,382.20) rotate(-90) scale(0.8344,1)" x="0.00 6.51 12.54 18.06 24.14 30.22" font-size="8.8">CREBBP</text>
<path d="M344.33,345.0V348.8" stroke="#231f20" stroke-width="1"/>
<text transform="translate(346.78,376.56) rotate(-90) scale(0.9476,1)" x="0.00 4.09 8.95 14.41 20.85" font-size="8.8">*EZH2</text>
<path d="M352.39,345.0V348.8" stroke="#231f20" stroke-width="1"/>
<text transform="translate(354.84,380.83) rotate(-90) scale(0.9070,1)" x="0.00 6.79 11.82 17.41 23.00 25.47" font-size="8.8">NFKBIA</text>
<path d="M360.46,345.0V348.8" stroke="#231f20" stroke-width="1"/>
<text transform="translate(362.91,395.63) rotate(-90) scale(0.9011,1)" x="0.00 6.77 9.25 14.38 19.33 24.66 31.43 36.76 42.39" font-size="8.8">HIST1H2BC</text>
<path d="M368.52,345.0V348.8" stroke="#231f20" stroke-width="1"/>
<text transform="translate(370.97,373.85) rotate(-90) scale(0.9118,1)" x="0.00 2.45 8.02 13.69 18.69" font-size="8.8">IKZF3</text>
<path d="M376.58,345.0V348.8" stroke="#231f20" stroke-width="1"/>
<text transform="translate(379.03,372.54) rotate(-90) scale(0.8747,1)" x="0.00 5.28 12.19 17.99" font-size="8.8">SGK1</text>
<path d="M384.65,345.0V348.8" stroke="#231f20" stroke-width="1"/>
<text transform="translate(387.10,368.63) rotate(-90) scale(0.8722,1)" x="0.00 2.56 8.34 13.56" font-size="8.8">IRF8</text>
<path d="M392.71,345.0V348.8" stroke="#231f20" stroke-width="1"/>
<text transform="translate(395.16,371.54) rotate(-90) scale(0.9515,1)" x="0.00 5.23 7.58 15.49" font-size="8.8">PIM1</text>
<path d="M400.77,345.0V348.8" stroke="#231f20" stroke-width="1"/>
<text transform="translate(403.22,375.99) rotate(-90) scale(0.9080,1)" x="0.00 5.07 10.56 15.84 21.13" font-size="8.8">EP300</text>
<path d="M408.84,345.0V348.8" stroke="#231f20" stroke-width="1"/>
<text transform="translate(411.29,373.27) rotate(-90) scale(0.9452,1)" x="0.00 5.74 12.34 17.42" font-size="8.8">CD58</text>
<path d="M416.90,345.0V348.8" stroke="#231f20" stroke-width="1"/>
<text transform="translate(419.35,373.27) rotate(-90) scale(0.9452,1)" x="0.00 5.74 12.34 17.42" font-size="8.8">CD83</text>
<path d="M424.96,345.0V348.8" stroke="#231f20" stroke-width="1"/>
<text transform="translate(427.41,371.72) rotate(-90) scale(0.8769,1)" x="0.00 6.19 8.74 11.29 15.96" font-size="8.8">CIITA</text>
<path d="M433.02,345.0V348.8" stroke="#231f20" stroke-width="1"/>
<text transform="translate(435.47,389.73) rotate(-90) scale(0.8971,1)" x="0.00 6.80 9.30 14.44 19.42 24.77 31.57 36.92" font-size="8.8">HIST1H1E</text>
<path d="M441.09,345.0V348.8" stroke="#231f20" stroke-width="1"/>
<text transform="translate(443.54,372.57) rotate(-90) scale(0.8951,1)" x="0.00 5.67 10.86 17.62" font-size="8.8">BTG1</text>
<path d="M449.15,345.0V348.8" stroke="#231f20" stroke-width="1"/>
<text transform="translate(451.60,384.01) rotate(-90) scale(0.9092,1)" x="0.00 5.12 13.39 18.47 24.05 29.33" font-size="8.8">TMSB4X</text>
<path d="M457.21,345.0V348.8" stroke="#231f20" stroke-width="1"/>
<text transform="translate(459.66,379.71) rotate(-90) scale(0.8717,1)" x="0.00 7.07 12.29 18.11 23.93 26.50" font-size="8.8">NFKBIE</text>
<path d="M465.28,345.0V348.8" stroke="#231f20" stroke-width="1"/>
<text transform="translate(467.73,373.57) rotate(-90) scale(0.9189,1)" x="0.00 5.82 11.23 18.25" font-size="8.8">XPO1</text>
<path d="M473.34,345.0V348.8" stroke="#231f20" stroke-width="1"/>
<text transform="translate(475.79,372.88) rotate(-90) scale(0.8898,1)" x="0.00 6.44 12.54 17.77" font-size="8.8">ACTB</text>
<path d="M481.40,345.0V348.8" stroke="#231f20" stroke-width="1"/>
<text transform="translate(483.85,384.65) rotate(-90) scale(0.9023,1)" x="0.00 5.16 11.98 16.52 22.86 25.34 30.86" font-size="8.8">TNFAIP3</text>
<path d="M489.47,345.0V348.8" stroke="#231f20" stroke-width="1"/>
<text transform="translate(491.92,369.40) rotate(-90) scale(0.9617,1)" x="0.00 5.28 10.27" font-size="8.8">B2M</text>
<path d="M497.53,345.0V348.8" stroke="#231f20" stroke-width="1"/>
<text transform="translate(499.98,379.54) rotate(-90) scale(0.9542,1)" x="0.00 6.34 12.79 18.79 23.83" font-size="8.8">GNA13</text>
<path d="M505.59,345.0V348.8" stroke="#231f20" stroke-width="1"/>
<text transform="translate(508.04,375.33) rotate(-90) scale(0.8518,1)" x="0.00 5.42 10.22 16.29 21.75" font-size="8.8">STAT6</text>
<text class="t" transform="translate(8.70,425.30) scale(0.8286,1)" x="0.00" font-size="12.6">C</text>
<text class="t" transform="translate(17.7,540.70) rotate(-90)" font-size="10.4" textLength="26.00" lengthAdjust="spacingAndGlyphs">Cases</text>
<text class="t" transform="translate(17.7,512.00) rotate(-90)" font-size="10.4" textLength="38.60" lengthAdjust="spacingAndGlyphs">mutated</text>
<text class="t" transform="translate(17.7,471.00) rotate(-90)" font-size="10.4" textLength="15.20" lengthAdjust="spacingAndGlyphs">(%)</text>
<rect x="56.36" y="562.10" width="5.10" height="2.20" fill="#49628a"/>
<rect x="69.21" y="562.10" width="5.10" height="2.20" fill="#49628a"/>
<rect x="82.07" y="562.10" width="5.10" height="2.20" fill="#49628a"/>
<rect x="94.92" y="562.10" width="5.10" height="2.20" fill="#49628a"/>
<rect x="107.78" y="562.10" width="5.10" height="2.20" fill="#49628a"/>
<rect x="120.64" y="562.10" width="5.10" height="2.20" fill="#49628a"/>
<rect x="133.49" y="559.90" width="5.10" height="4.40" fill="#49628a"/>
<rect x="146.35" y="555.50" width="5.10" height="8.80" fill="#49628a"/>
<rect x="159.20" y="555.50" width="5.10" height="8.80" fill="#49628a"/>
<rect x="172.06" y="553.31" width="5.10" height="10.99" fill="#49628a"/>
<rect x="184.92" y="553.31" width="5.10" height="10.99" fill="#49628a"/>
<rect x="197.77" y="553.31" width="5.10" height="10.99" fill="#49628a"/>
<rect x="210.63" y="553.31" width="5.10" height="10.99" fill="#49628a"/>
<rect x="223.48" y="546.71" width="5.10" height="17.59" fill="#49628a"/>
<rect x="236.34" y="542.31" width="5.10" height="21.99" fill="#49628a"/>
<rect x="249.20" y="526.92" width="5.10" height="37.38" fill="#49628a"/>
<rect x="262.05" y="509.33" width="5.10" height="54.97" fill="#49628a"/>
<rect x="274.91" y="507.13" width="5.10" height="57.17" fill="#49628a"/>
<rect x="287.76" y="504.93" width="5.10" height="59.37" fill="#49628a"/>
<rect x="300.62" y="480.74" width="5.10" height="83.56" fill="#49628a"/>
<rect x="313.48" y="474.14" width="5.10" height="90.16" fill="#49628a"/>
<rect x="326.33" y="471.94" width="5.10" height="92.36" fill="#49628a"/>
<rect x="339.19" y="471.94" width="5.10" height="92.36" fill="#49628a"/>
<rect x="352.04" y="471.94" width="5.10" height="92.36" fill="#49628a"/>
<rect x="364.90" y="432.36" width="5.10" height="131.94" fill="#49628a"/>
<rect x="48.60" y="552.14" width="5.10" height="12.16" fill="#79aa57"/>
<rect x="61.46" y="546.06" width="5.10" height="18.24" fill="#79aa57"/>
<rect x="74.31" y="546.06" width="5.10" height="18.24" fill="#79aa57"/>
<rect x="87.17" y="546.06" width="5.10" height="18.24" fill="#79aa57"/>
<rect x="100.02" y="539.98" width="5.10" height="24.32" fill="#79aa57"/>
<rect x="112.88" y="558.22" width="5.10" height="6.08" fill="#79aa57"/>
<rect x="125.74" y="546.06" width="5.10" height="18.24" fill="#79aa57"/>
<rect x="138.59" y="546.06" width="5.10" height="18.24" fill="#79aa57"/>
<rect x="151.45" y="546.06" width="5.10" height="18.24" fill="#79aa57"/>
<rect x="164.30" y="546.06" width="5.10" height="18.24" fill="#79aa57"/>
<rect x="177.16" y="546.06" width="5.10" height="18.24" fill="#79aa57"/>
<rect x="190.02" y="546.06" width="5.10" height="18.24" fill="#79aa57"/>
<rect x="202.87" y="546.06" width="5.10" height="18.24" fill="#79aa57"/>
<rect x="215.73" y="546.06" width="5.10" height="18.24" fill="#79aa57"/>
<rect x="228.58" y="546.06" width="5.10" height="18.24" fill="#79aa57"/>
<rect x="241.44" y="552.14" width="5.10" height="12.16" fill="#79aa57"/>
<rect x="254.30" y="552.14" width="5.10" height="12.16" fill="#79aa57"/>
<rect x="267.15" y="546.06" width="5.10" height="18.24" fill="#79aa57"/>
<rect x="280.01" y="533.90" width="5.10" height="30.40" fill="#79aa57"/>
<rect x="292.86" y="527.82" width="5.10" height="36.48" fill="#79aa57"/>
<rect x="305.72" y="539.98" width="5.10" height="24.32" fill="#79aa57"/>
<rect x="318.58" y="539.98" width="5.10" height="24.32" fill="#79aa57"/>
<rect x="331.43" y="509.59" width="5.10" height="54.71" fill="#79aa57"/>
<rect x="344.29" y="515.66" width="5.10" height="48.64" fill="#79aa57"/>
<rect x="357.14" y="497.43" width="5.10" height="66.87" fill="#79aa57"/>
<rect x="370.00" y="467.03" width="5.10" height="97.27" fill="#79aa57"/>
<path d="M41.3,425.3V570.8H377.7" fill="none" stroke="#231f20" stroke-width="1.1"/>
<path d="M37.5,564.30H41.3" stroke="#231f20" stroke-width="1"/>
<text transform="translate(29.69,567.30) scale(0.9439,1)" x="0.00" font-size="8.6">0</text>
<path d="M37.5,522.96H41.3" stroke="#231f20" stroke-width="1"/>
<text transform="translate(25.17,525.96) scale(0.9439,1)" x="0.00 4.78" font-size="8.6">20</text>
<path d="M37.5,481.62H41.3" stroke="#231f20" stroke-width="1"/>
<text transform="translate(25.17,484.62) scale(0.9439,1)" x="0.00 4.78" font-size="8.6">40</text>
<path d="M37.5,440.28H41.3" stroke="#231f20" stroke-width="1"/>
<text transform="translate(25.17,443.28) scale(0.9439,1)" x="0.00 4.78" font-size="8.6">60</text>
<path d="M48.60,570.8V574.5999999999999" stroke="#231f20" stroke-width="1"/>
<text transform="translate(51.05,601.83) rotate(-90) scale(0.8518,1)" x="0.00 5.42 10.22 16.29 21.75" font-size="8.8">STAT3</text>
<path d="M61.46,570.8V574.5999999999999" stroke="#231f20" stroke-width="1"/>
<text transform="translate(63.91,604.81) rotate(-90) scale(0.9273,1)" x="0.00 6.18 11.65 17.82 23.19" font-size="8.8">AKAP6</text>
<path d="M74.31,570.8V574.5999999999999" stroke="#231f20" stroke-width="1"/>
<text transform="translate(76.76,601.91) rotate(-90) scale(0.9207,1)" x="0.00 6.57 12.04 20.21" font-size="8.8">GRM7</text>
<path d="M87.17,570.8V574.5999999999999" stroke="#231f20" stroke-width="1"/>
<text transform="translate(89.62,616.47) rotate(-90) scale(0.9582,1)" x="0.00 5.29 7.63 13.61 19.59 24.60 29.61 34.62" font-size="8.8">KIAA1671</text>
<path d="M100.02,570.8V574.5999999999999" stroke="#231f20" stroke-width="1"/>
<text transform="translate(102.47,613.97) rotate(-90) scale(0.9670,1)" x="0.00 4.01 10.38 16.64 21.79 26.76 31.72" font-size="8.8">*NUP214</text>
<path d="M112.88,570.8V574.5999999999999" stroke="#231f20" stroke-width="1"/>
<text transform="translate(115.33,606.90) rotate(-90) scale(0.8540,1)" x="0.00 5.40 10.19 16.24 21.69 27.31" font-size="8.8">STAT5B</text>
<path d="M125.74,570.8V574.5999999999999" stroke="#231f20" stroke-width="1"/>
<text transform="translate(128.19,615.67) rotate(-90) scale(0.9158,1)" x="0.00 5.65 11.58 17.51 24.17 30.10 35.34" font-size="8.8">ZCCHC11</text>
<path d="M138.59,570.8V574.5999999999999" stroke="#231f20" stroke-width="1"/>
<text transform="translate(141.04,603.41) rotate(-90) scale(0.8781,1)" x="0.00 5.25 10.50 15.80 22.90" font-size="8.8">SETD5</text>
<path d="M151.45,570.8V574.5999999999999" stroke="#231f20" stroke-width="1"/>
<text transform="translate(153.90,597.73) rotate(-90) scale(0.9145,1)" x="0.00 5.09 10.53 15.78" font-size="8.8">TP53</text>
<path d="M164.30,570.8V574.5999999999999" stroke="#231f20" stroke-width="1"/>
<text transform="translate(166.75,600.21) rotate(-90) scale(0.8704,1)" x="0.00 2.57 7.92 13.64 19.42" font-size="8.8">ITPR3</text>
<path d="M177.16,570.8V574.5999999999999" stroke="#231f20" stroke-width="1"/>
<text transform="translate(179.61,600.93) rotate(-90) scale(0.8993,1)" x="0.00 6.93 13.66 19.30" font-size="8.8">DGKB</text>
<path d="M190.02,570.8V574.5999999999999" stroke="#231f20" stroke-width="1"/>
<text transform="translate(192.47,606.37) rotate(-90) scale(0.9049,1)" x="0.00 6.81 12.81 19.93 25.50" font-size="8.8">NCOR1</text>
<path d="M202.87,570.8V574.5999999999999" stroke="#231f20" stroke-width="1"/>
<text transform="translate(205.32,610.14) rotate(-90) scale(0.8862,1)" x="0.00 5.62 11.30 18.13 25.08 30.28" font-size="8.8">PRUNE2</text>
<path d="M215.73,570.8V574.5999999999999" stroke="#231f20" stroke-width="1"/>
<text transform="translate(218.18,610.13) rotate(-90) scale(0.9371,1)" x="0.00 5.79 12.68 17.39 22.51 28.63" font-size="8.8">COL6A3</text>
<path d="M228.58,570.8V574.5999999999999" stroke="#231f20" stroke-width="1"/>
<text transform="translate(231.03,607.08) rotate(-90) scale(0.9278,1)" x="0.00 8.53 15.25 20.17 25.62" font-size="8.8">WDFY3</text>
<path d="M241.44,570.8V574.5999999999999" stroke="#231f20" stroke-width="1"/>
<text transform="translate(243.89,597.57) rotate(-90) scale(0.9065,1)" x="0.00 3.82 10.14 15.74" font-size="8.8">JAK1</text>
<path d="M254.30,570.8V574.5999999999999" stroke="#231f20" stroke-width="1"/>
<text transform="translate(256.75,604.07) rotate(-90) scale(0.9016,1)" x="0.00 5.52 10.68 16.21 23.04" font-size="8.8">PTPN1</text>
<path d="M267.15,570.8V574.5999999999999" stroke="#231f20" stroke-width="1"/>
<text transform="translate(269.60,601.33) rotate(-90) scale(0.9154,1)" x="0.00 5.08 11.81 14.25 19.69" font-size="8.8">TNIP1</text>
<path d="M280.01,570.8V574.5999999999999" stroke="#231f20" stroke-width="1"/>
<text transform="translate(282.46,606.21) rotate(-90) scale(0.8717,1)" x="0.00 7.07 12.29 18.11 23.93 26.50" font-size="8.8">NFKBIE</text>
<path d="M292.86,570.8V574.5999999999999" stroke="#231f20" stroke-width="1"/>
<text transform="translate(295.31,600.07) rotate(-90) scale(0.9189,1)" x="0.00 5.82 11.23 18.25" font-size="8.8">XPO1</text>
<path d="M305.72,570.8V574.5999999999999" stroke="#231f20" stroke-width="1"/>
<text transform="translate(308.17,604.30) rotate(-90) scale(0.9416,1)" x="0.00 4.12 6.49 12.91 17.61 22.30" font-size="8.8">*IGLL5</text>
<path d="M318.58,570.8V574.5999999999999" stroke="#231f20" stroke-width="1"/>
<text transform="translate(321.03,604.39) rotate(-90) scale(0.8973,1)" x="0.00 4.32 6.81 12.00 17.55 23.20" font-size="8.8">*ITPKB</text>
<path d="M331.43,570.8V574.5999999999999" stroke="#231f20" stroke-width="1"/>
<text transform="translate(333.88,595.90) rotate(-90) scale(0.9617,1)" x="0.00 5.28 10.27" font-size="8.8">B2M</text>
<path d="M344.29,570.8V574.5999999999999" stroke="#231f20" stroke-width="1"/>
<text transform="translate(346.74,606.04) rotate(-90) scale(0.9542,1)" x="0.00 6.34 12.79 18.79 23.83" font-size="8.8">GNA13</text>
<path d="M357.14,570.8V574.5999999999999" stroke="#231f20" stroke-width="1"/>
<text transform="translate(359.59,601.83) rotate(-90) scale(0.8518,1)" x="0.00 5.42 10.22 16.29 21.75" font-size="8.8">STAT6</text>
<path d="M370.00,570.8V574.5999999999999" stroke="#231f20" stroke-width="1"/>
<text transform="translate(372.45,604.41) rotate(-90) scale(0.8684,1)" x="0.00 5.31 12.74 18.99 24.30" font-size="8.8">SOCS1</text>
<rect x="395.7" y="467.30" width="7.8" height="7.4" fill="#49628a"/>
<text x="407.0" y="473.30" font-size="8.3" textLength="45.2" lengthAdjust="spacingAndGlyphs">PMBL (n=94)</text>
<rect x="395.7" y="484.45" width="7.8" height="7.4" fill="#a2303f"/>
<text x="407.0" y="490.45" font-size="8.3" textLength="75.6" lengthAdjust="spacingAndGlyphs">Reddy et al. (n=1001)</text>
<rect x="395.7" y="501.60" width="7.8" height="7.4" fill="#df9d3e"/>
<text x="407.0" y="507.60" font-size="8.3" textLength="75.6" lengthAdjust="spacingAndGlyphs">Chapuy et al. (n=304)</text>
<rect x="395.7" y="518.75" width="7.8" height="7.4" fill="#79aa57"/>
<text x="407.0" y="524.75" font-size="8.3" textLength="64.0" lengthAdjust="spacingAndGlyphs">Tiacci et al. (n=34)</text>
<rect x="0" y="0" width="1" height="628" fill="#525252"/>
<rect x="1" y="1" width="1" height="625" fill="#747474"/>
<rect x="1" y="626" width="518" height="1" fill="#8a8a8a"/>
<rect x="0" y="627" width="520" height="1" fill="#505050"/>
<rect x="2" y="1" width="516" height="1" fill="#e6e6e6"/>
<rect x="518" y="1" width="1" height="625" fill="#b2b2b2"/>
<rect x="0" y="0" width="520" height="1" fill="#000"/>
<rect x="519" y="0" width="1" height="628" fill="#000"/>
</svg></body></html>
